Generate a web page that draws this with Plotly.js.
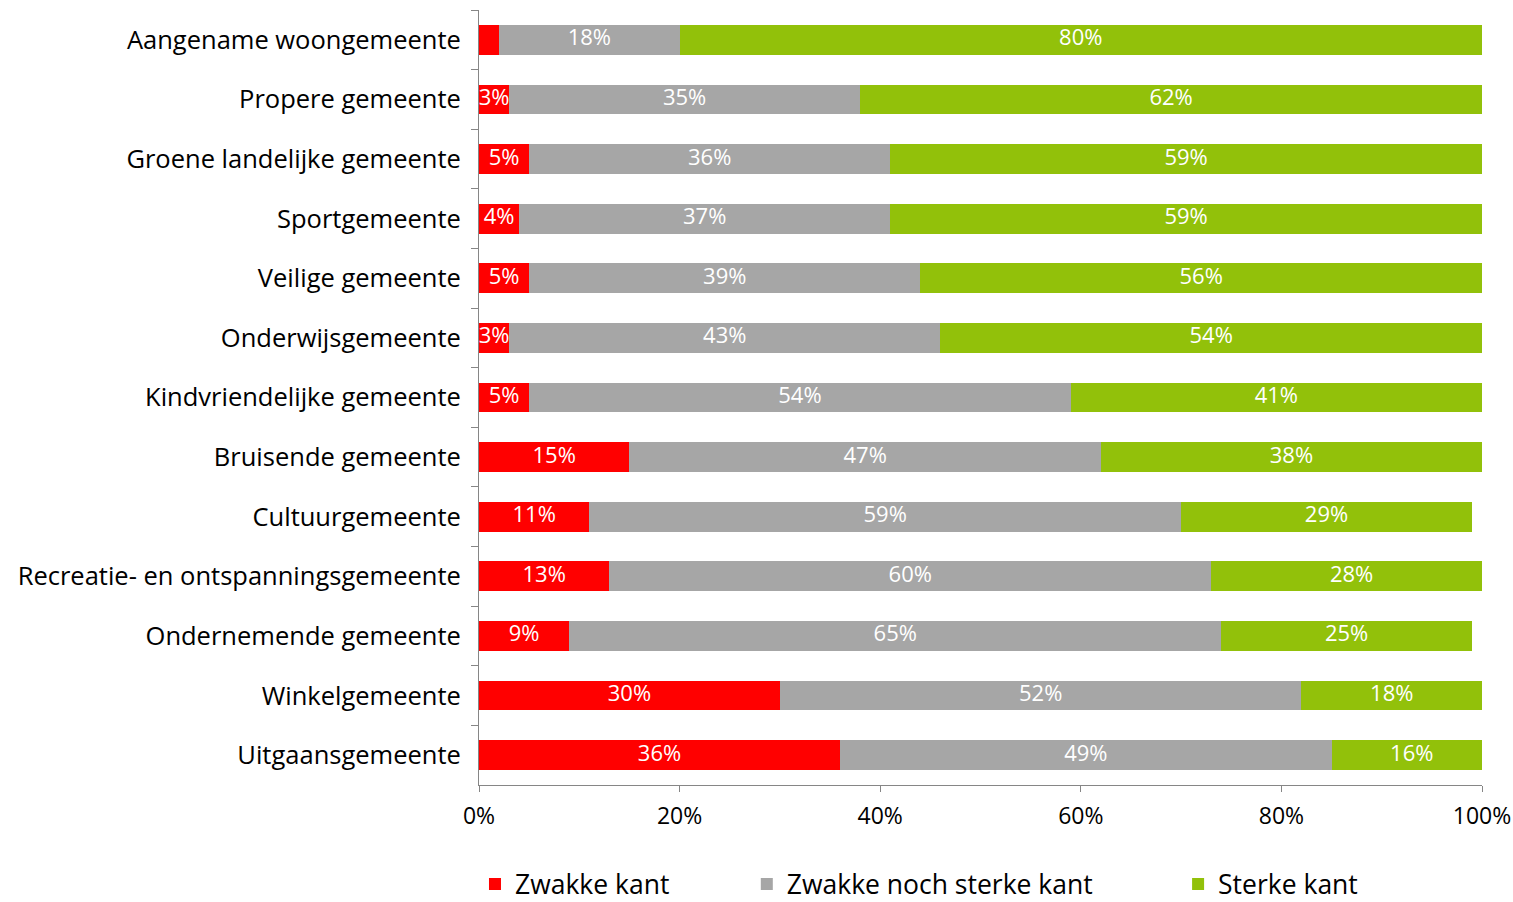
<!DOCTYPE html>
<html><head><meta charset="utf-8">
<script src="https://cdn.plot.ly/plotly-3.0.1.min.js"></script>
<style>html,body{margin:0;padding:0;background:#fff}#chart{width:1513px;height:902px}</style>
</head><body><div id="chart"></div>
<script>
const categories = ["Aangename woongemeente","Propere gemeente","Groene landelijke gemeente","Sportgemeente","Veilige gemeente","Onderwijsgemeente","Kindvriendelijke gemeente","Bruisende gemeente","Cultuurgemeente","Recreatie- en ontspanningsgemeente","Ondernemende gemeente","Winkelgemeente","Uitgaansgemeente"];
const zwak = [2,3,5,4,5,3,5,15,11,13,9,30,36];
const neutraal = [18,35,36,37,39,43,54,47,59,60,65,52,49];
const sterk = [80,62,59,59,56,54,41,38,29,28,25,18,16];
const seriesNames = ["Zwakke kant","Zwakke noch sterke kant","Sterke kant"];
const colors = ["#FF0000","#A6A6A6","#92C10A"];
const tickVals = [0,20,40,60,80,100];
const tickText = ["0%","20%","40%","60%","80%","100%"];

const FONT = "'Open Sans', Lato, sans-serif";
const series = [zwak, neutraal, sterk];
const legendIds = ["legend","legend2","legend3"];
const traces = [];
series.forEach((vals, i) => {
  traces.push({type:"bar", orientation:"h", y:categories, x:vals, name:seriesNames[i],
    marker:{color:colors[i]}, width:0.5, textposition:"none", hoverinfo:"x+name", legend:legendIds[i]});
});
// labels
series.forEach((vals, i) => {
  const xs = vals.map((v, k) => {
    let base = 0; for (let j = 0; j < i; j++) base += series[j][k];
    return base + v / 2;
  });
  const txt = vals.map(v => v >= 3 ? v + "%" : "");
  traces.push({type:"scatter", mode:"text", y:categories, x:xs, text:txt, showlegend:false,
    textfont:{color:"#FFFFFF", size:22, family:FONT}, hoverinfo:"skip", cliponaxis:false});
});

const legFont = {size:26.5, family:FONT, color:"#000"};
const legY = -0.097;
const layout = {
  width:1513, height:902, barmode:"stack",
  margin:{l:479, r:31, t:10, b:117, autoexpand:false},
  paper_bgcolor:"#fff", plot_bgcolor:"#fff",
  font:{family:FONT, color:"#000"},
  xaxis:{range:[0,100], tickvals:tickVals, ticktext:tickText, showgrid:false, zeroline:false,
    showline:true, linecolor:"#868686", linewidth:1, ticks:"outside", ticklen:6, tickcolor:"#868686",
    tickfont:{size:23, family:FONT, color:"#000"}, ticklabelstandoff:4, fixedrange:true, automargin:false},
  yaxis:{range:[12.5,-0.5], type:"category", showgrid:false, zeroline:false,
    showline:true, linecolor:"#868686", linewidth:1, ticks:"outside", ticklen:7, tickcolor:"#868686",
    tickson:"boundaries", tickfont:{size:25.5, family:FONT, color:"#000"}, ticklabelstandoff:12, automargin:false},
  legend:{orientation:"h", x:-0.004, xanchor:"left", y:legY, yanchor:"top", font:legFont},
  legend2:{orientation:"h", x:0.267, xanchor:"left", y:legY, yanchor:"top", font:legFont},
  legend3:{orientation:"h", x:0.697, xanchor:"left", y:legY, yanchor:"top", font:legFont},
  showlegend:true
};
Plotly.newPlot("chart", traces, layout, {displayModeBar:false, staticPlot:true});
</script></body></html>
